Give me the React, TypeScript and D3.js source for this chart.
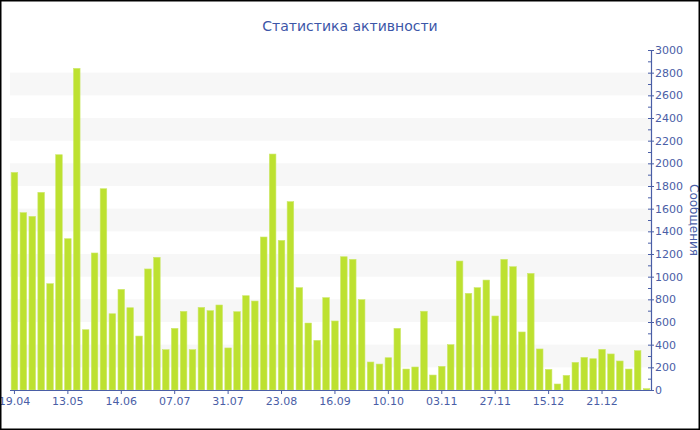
import React from 'react';
import * as d3 from 'd3';

const title = 'Статистика активности';
const yTitle = 'Сообщения';

const values: number[] = [
  1920, 1565, 1532, 1744, 938, 2076, 1335, 2838, 532, 1209, 1776, 673,
  888, 726, 476, 1068, 1171, 356, 544, 694, 356, 729, 700, 750,
  371, 691, 832, 785, 1350, 2082, 1320, 1662, 903, 591, 438, 815,
  609, 1176, 1153, 797, 247, 229, 285, 544, 185, 203, 695, 132,
  209, 400, 1138, 853, 903, 970, 653, 1153, 1088, 512, 1029, 362,
  182, 53, 129, 244, 288, 276, 359, 318, 256, 185, 347, 12,
];

const tickLabels: string[] = [
  '19.04', '13.05', '14.06', '07.07', '31.07', '23.08',
  '16.09', '10.10', '03.11', '27.11', '15.12', '21.12',
];
const tickEvery = 6;

const yTicks: number[] = d3.range(0, 3001, 200);
const yMinorTicks: number[] = d3.range(100, 3000, 200);
const bandStarts: number[] = [200, 600, 1000, 1400, 1800, 2200, 2600];

const axisColor = '#4a5ea6';
const textColor = '#4a5ea6';
const titleColor = '#3c56a8';
const barColor = '#bde130';
const font = '"DejaVu Sans", Verdana, sans-serif';

export default function App() {
  const W = 700, H = 430;
  const left = 10, right = 651, top = 50, bottom = 390;
  const idx = values.map((_, i) => i);
  const x = d3.scaleBand<number>().domain(idx).range([left, right]).paddingInner(0.26).paddingOuter(0.13);
  const y = d3.scaleLinear().domain([0, 3000]).range([bottom, top]);
  const bw = x.bandwidth();

  return (
    <div style={{ position: 'absolute', left: 0, top: 0 }}>
      <svg width={W} height={H} style={{ display: 'block', background: '#fff' }}>
        {bandStarts.map((v) => (
          <rect key={v} x={left} y={y(v + 200)} width={right - left} height={y(v) - y(v + 200)} fill="#f7f7f7" />
        ))}
        {values.map((v, i) => (
          <rect key={i} x={x(i)} y={y(v)} width={bw} height={bottom - y(v)} fill={barColor} stroke="#cde86e" strokeWidth={0.6} />
        ))}
        <line x1={left} x2={right} y1={bottom + 0.5} y2={bottom + 0.5} stroke={axisColor} strokeWidth={1.2} />
        {tickLabels.map((t, k) => {
          const cx = (x(k * tickEvery) as number) + bw / 2;
          return (
            <g key={t}>
              <line x1={cx} x2={cx} y1={bottom} y2={bottom + 4} stroke={axisColor} />
              <text x={cx} y={bottom + 15} textAnchor="middle" fontFamily={font} fontSize={11} fill={textColor}>{t}</text>
            </g>
          );
        })}
        <line x1={right + 0.5} x2={right + 0.5} y1={top} y2={bottom + 1} stroke={axisColor} strokeWidth={1.2} />
        {yTicks.map((v) => (
          <g key={v}>
            <line x1={right - 3} x2={right + 3} y1={y(v) + 0.5} y2={y(v) + 0.5} stroke={axisColor} />
            <text x={right + 4} y={y(v)} dy="0.35em" fontFamily={font} fontSize={11} fill={textColor}>{v}</text>
          </g>
        ))}
        {yMinorTicks.map((v) => (
          <line key={v} x1={right - 3} x2={right} y1={y(v) + 0.5} y2={y(v) + 0.5} stroke={axisColor} />
        ))}
        <text transform={`translate(690, ${(top + bottom) / 2}) rotate(90)`} textAnchor="middle" fontFamily={font} fontSize={12} fill={textColor}>{yTitle}</text>
        <text x={W / 2} y={31} textAnchor="middle" fontFamily={font} fontSize={14} fill={titleColor}>{title}</text>
        <rect x={0.75} y={0.75} width={W - 1.5} height={H - 1.5} fill="none" stroke="#000" strokeWidth={1.5} />
      </svg>
    </div>
  );
}
